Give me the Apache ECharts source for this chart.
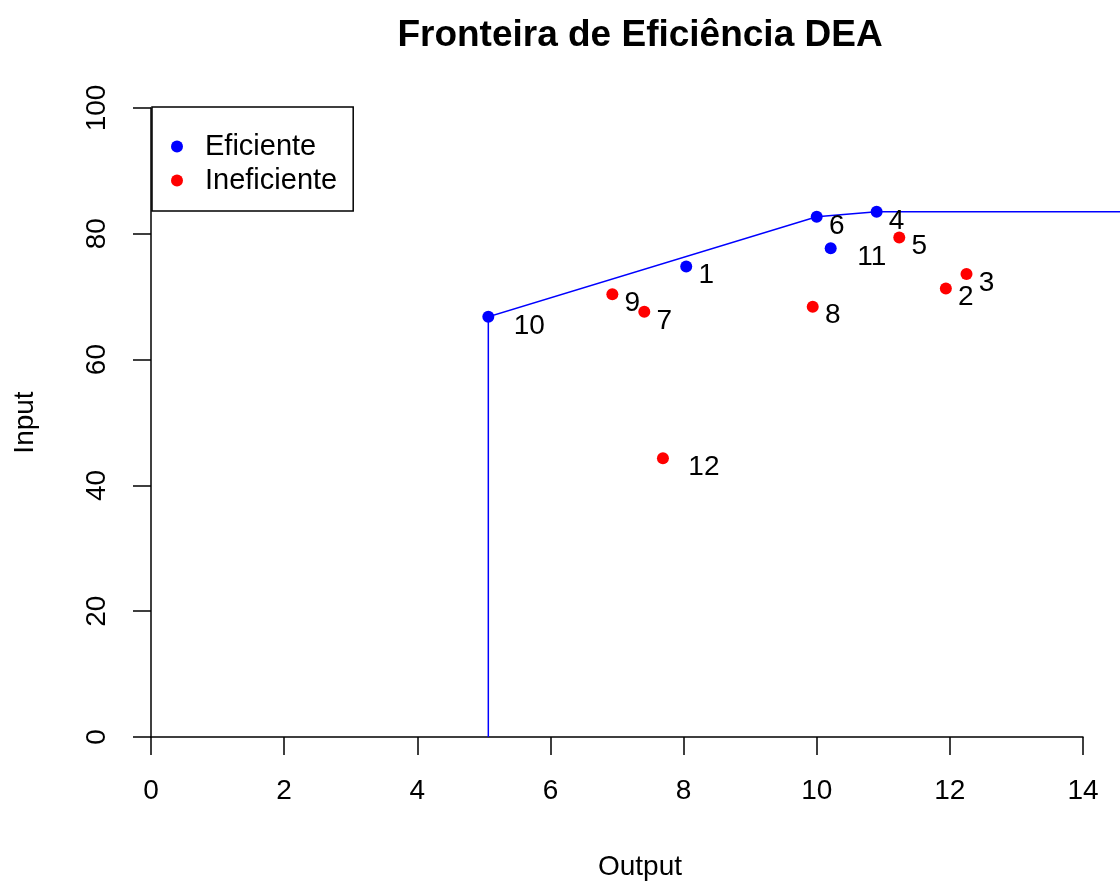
<!DOCTYPE html>
<html>
<head>
<meta charset="utf-8">
<script src="https://cdn.jsdelivr.net/npm/echarts@6/dist/echarts.min.js"></script>
<style>html,body{margin:0;padding:0;background:#fff}#c{width:1120px;height:883px}</style>
</head>
<body>
<div id="c"></div>
<script>
// ---- data ----
const effNames = ['10', '1', '6', '4', '11'];
const effX = [5.067, 8.04, 10.0, 10.9, 10.21];
const effY = [66.8, 74.8, 82.7, 83.5, 77.7];

const ineffNames = ['9', '7', '12', '8', '5', '2', '3'];
const ineffX = [6.93, 7.41, 7.69, 9.94, 11.24, 11.94, 12.25];
const ineffY = [70.4, 67.6, 44.3, 68.4, 79.4, 71.3, 73.6];

const frontierX = [5.067, 5.067, 10.0, 10.45, 10.9, 14.8];
const frontierY = [0, 66.8, 82.7, 83.1, 83.5, 83.5];

const xTicks = [0, 2, 4, 6, 8, 10, 12, 14];
const yTicks = [0, 20, 40, 60, 80, 100];

// ---- chart ----
const FONT = '"Liberation Sans", Arial, sans-serif';
function pts(xs, ys, names) {
  return xs.map((x, i) => ({
    value: [x, ys[i]],
    name: names[i],
    label: { offset: [names[i].length === 1 ? 20 : 41, 9] }
  }));
}
const chart = echarts.init(document.getElementById('c'), null, { renderer: 'canvas' });
const labelCfg = {
  show: true, position: 'inside', align: 'center', verticalAlign: 'middle',
  formatter: p => p.name, color: '#000', fontSize: 28, fontFamily: FONT
};
chart.setOption({
  animation: false,
  backgroundColor: '#fff',
  title: {
    text: 'Fronteira de Eficiência DEA',
    left: 635, top: 12, textAlign: 'center',
    textStyle: { fontSize: 37, fontWeight: 'bold', color: '#000', fontFamily: FONT }
  },
  legend: {
    data: ['Eficiente', 'Ineficiente'],
    orient: 'vertical', left: 152, top: 107,
    padding: [25, 16, 16, 19],
    itemWidth: 40, itemHeight: 12, itemGap: 5,
    icon: 'circle',
    borderColor: '#000', borderWidth: 1.5, borderRadius: 0,
    textStyle: { fontSize: 29, color: '#000', fontFamily: FONT, padding: [0, 0, 0, 3] }
  },
  grid: { left: 151, right: 37, top: 108, bottom: 146, containLabel: false, outerBoundsMode: 'none' },
  xAxis: {
    type: 'value', min: xTicks[0], max: xTicks[xTicks.length - 1], interval: 2,
    name: 'Output', nameLocation: 'middle', nameGap: 116,
    nameTextStyle: { fontSize: 28, color: '#000', fontFamily: FONT, padding: [0, 0, 0, 46] },
    axisLine: { onZero: false, lineStyle: { color: '#000', width: 1.5 } },
    axisTick: { length: 18, lineStyle: { color: '#000', width: 1.5 } },
    axisLabel: { margin: 40, fontSize: 28, color: '#000', fontFamily: FONT,
      formatter: v => xTicks.includes(v) ? String(v) : '' },
    splitLine: { show: false }
  },
  yAxis: {
    type: 'value', min: yTicks[0], max: yTicks[yTicks.length - 1], interval: 20,
    name: 'Input', nameLocation: 'middle', nameGap: 112,
    nameTextStyle: { fontSize: 28, color: '#000', fontFamily: FONT },
    axisLine: { show: true, onZero: false, lineStyle: { color: '#000', width: 1.5 } },
    axisTick: { show: true, length: 18, lineStyle: { color: '#000', width: 1.5 } },
    axisLabel: { margin: 40, rotate: 90, fontSize: 28, color: '#000', fontFamily: FONT,
      formatter: v => yTicks.includes(v) ? String(v) : '' },
    splitLine: { show: false }
  },
  series: [
    {
      name: 'Fronteira', type: 'lines', coordinateSystem: 'cartesian2d',
      polyline: true, clip: false, silent: true, z: 1,
      data: [{ coords: frontierX.map((x, i) => [x, frontierY[i]]) }],
      lineStyle: { color: '#0000FF', width: 1.5, opacity: 1, curveness: 0 },
      effect: { show: false }
    },
    {
      name: 'Eficiente', type: 'scatter', symbol: 'circle', symbolSize: 12,
      itemStyle: { color: '#0000FF', opacity: 1 }, data: pts(effX, effY, effNames),
      label: labelCfg, z: 3
    },
    {
      name: 'Ineficiente', type: 'scatter', symbol: 'circle', symbolSize: 12,
      itemStyle: { color: '#FF0000', opacity: 1 }, data: pts(ineffX, ineffY, ineffNames),
      label: labelCfg, z: 3
    }
  ]
});
</script>
</body>
</html>
